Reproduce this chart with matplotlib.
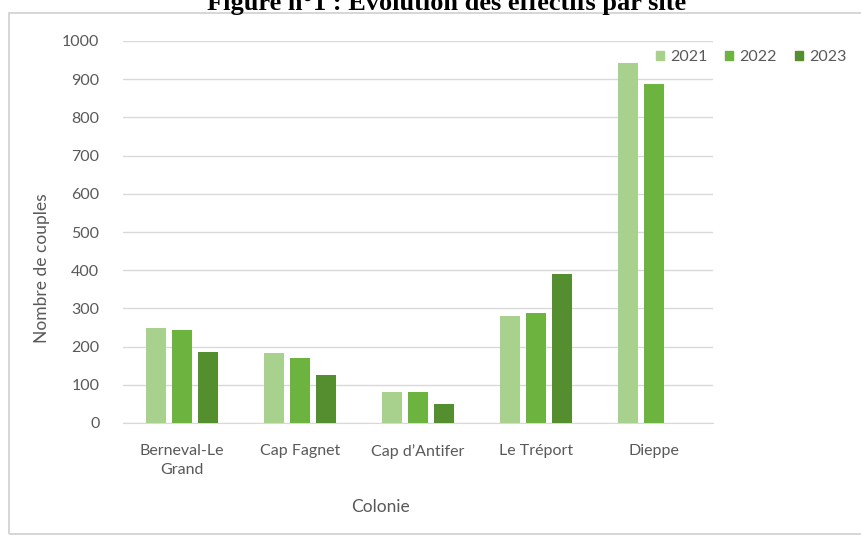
import matplotlib
matplotlib.use("Agg")
from matplotlib import pyplot as plt
from matplotlib.patches import Rectangle, Patch
import numpy as np

# data
colonies = ["Berneval-Le\nGrand", "Cap Fagnet", "Cap d\u2019Antifer", "Le Tréport", "Dieppe"]
annees = ["2021", "2022", "2023"]
v2021 = [250, 184, 82, 279, 943]
v2022 = [244, 170, 80, 288, 887]
v2023 = [186, 125, 49, 390, 0]

couleurs = ["#a9d18e", "#6db33f", "#548e2f"]
gris = "#595959"
police = "Lato"

fig = plt.figure(figsize=(8.61, 5.40), dpi=100)
fig.patch.set_facecolor("white")

# cadre du graphique
fig.patches.append(Rectangle((9 / 861, 6 / 540), 1.0, 521 / 540, transform=fig.transFigure,
                             fill=False, edgecolor="#d0d0d0", lw=1.2))

# titre coupé en haut de l'image
fig.text(447 / 861, 1 - 10 / 540, "Figure n°1 : Évolution des effectifs par site",
         ha="center", va="baseline", fontsize=19, fontweight="bold",
         family="Liberation Serif", color="black")

ax = fig.add_axes([123 / 861, 1 - 423 / 540, 590 / 861, 382 / 540])
x = np.arange(len(colonies))
w = 0.17
dx = 0.22
for i, (vals, c) in enumerate(zip([v2021, v2022, v2023], couleurs)):
    ax.bar(x + (i - 1) * dx, vals, width=w, color=c, zorder=3)

ax.set_xlim(-0.5, len(colonies) - 0.5)
ax.set_ylim(0, 1000)
ax.set_yticks(np.arange(0, 1001, 100))
ax.yaxis.grid(True, color="#d9d9d9", lw=1, zorder=0)
for s in ["top", "right", "left"]:
    ax.spines[s].set_visible(False)
ax.spines["bottom"].set_color("#d9d9d9")
ax.tick_params(axis="both", length=0, labelcolor=gris, labelsize=11.5)
ax.tick_params(axis="y", pad=17)
ax.tick_params(axis="x", pad=15)
ax.set_xticks(x)
ax.set_xticklabels(colonies, family=police, linespacing=1.5)
for lab in ax.get_yticklabels():
    lab.set_family(police)

fig.text(381 / 861, 1 - 507 / 540, "Colonie", ha="center", va="center",
         fontsize=12.5, color=gris, family=police)
fig.text(42 / 861, 1 - 268 / 540, "Nombre de couples", ha="center", va="center",
         rotation=90, fontsize=12.5, color=gris, family=police)

poignees = [Patch(color=c) for c in couleurs]
leg = ax.legend(poignees, annees, loc="center left", bbox_to_anchor=(656 / 861, 1 - 57 / 540),
                bbox_transform=fig.transFigure, ncol=3, frameon=False, borderpad=0,
                borderaxespad=0, handlelength=0.5, handleheight=0.5, handletextpad=0.4,
                columnspacing=1.1, prop={"family": police, "size": 11.5})
for t in leg.get_texts():
    t.set_color(gris)

fig.savefig("out.png", dpi=100, facecolor="white")
